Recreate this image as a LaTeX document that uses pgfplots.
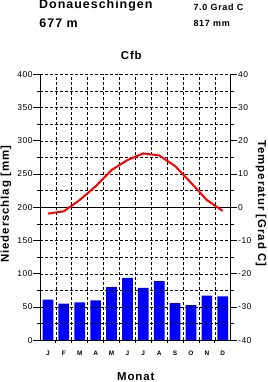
\documentclass[border=0pt]{standalone}
\usepackage{fontspec}
\setmainfont{Liberation Sans}
\newfontfamily\wb{Liberation Sans}[LetterSpace=8]
\newfontfamily\tk{Liberation Sans}[LetterSpace=6]
\usepackage{pgfplots}
\pgfplotsset{compat=1.18}
\begin{document}
\begin{tikzpicture}
\useasboundingbox (-40bp,-41.7bp) rectangle (228bp,340.3bp);
\begin{axis}[
  at={(0,0)}, anchor=south west,
  scale only axis, width=190.7bp, height=266bp,
  xmin=0.5, xmax=12.5, ymin=0, ymax=400,
  axis x line*=bottom, axis y line*=left,
  axis line style={black, line width=0.8bp},
  xtick={1,...,12}, xticklabels={},
  minor xtick={1.5,2.5,...,11.5},
  xmajorticks=false, xminorticks=false,
  xminorgrids=true,
  ytick={0,50,...,400}, minor ytick={25,75,...,375},
  ymajorgrids=true, yminorgrids=true,
  major grid style={black, line width=0.6bp, dash pattern=on 3bp off 2bp},
  minor grid style={black, line width=0.6bp, dash pattern=on 3bp off 2bp},
  tick align=outside, major tick length=6.5bp, minor tick length=3bp,
  tick style={black, line width=0.8bp},
  /pgf/number format/assume math mode=true,
  yticklabel style={font=\tk\fontsize{8.5}{9}\selectfont, inner sep=0.8bp},
  axis on top, clip=false,
]
\addplot[ybar, bar width=10.7bp, fill=blue, draw=none] coordinates {
(1,61) (2,55) (3,57) (4,60) (5,80) (6,94) (7,79) (8,89) (9,56) (10,53) (11,67) (12,66)};
\draw[black, line width=0.8bp] (axis cs:0.5,200) -- (axis cs:12.5,200);
\begin{scope}[every node/.style={anchor=base, inner sep=0, yshift=-15.4bp, font=\wb\bfseries\fontsize{6.5}{7}\selectfont}]
\node at (axis cs:1,0) {J};
\node at (axis cs:2,0) {F};
\node at (axis cs:3,0) {M};
\node at (axis cs:4,0) {A};
\node at (axis cs:5,0) {M};
\node at (axis cs:6,0) {J};
\node at (axis cs:7,0) {J};
\node at (axis cs:8,0) {A};
\node at (axis cs:9,0) {S};
\node at (axis cs:10,0) {O};
\node at (axis cs:11,0) {N};
\node at (axis cs:12,0) {D};
\end{scope}
\end{axis}
\begin{axis}[
  at={(0,0)}, anchor=south west,
  scale only axis, width=190.7bp, height=266bp,
  xmin=0.5, xmax=12.5, ymin=-40, ymax=40,
  axis x line=none, axis y line*=right,
  axis line style={black, line width=0.8bp},
  ytick={-40,-30,...,40}, yticklabels={-40,-30,-20,-10,0,10,20,30,40},
  minor ytick={-35,-25,...,35},
  tick align=outside, major tick length=6.5bp, minor tick length=3bp,
  tick style={black, line width=0.8bp},
  yticklabel style={font=\tk\fontsize{8.5}{9}\selectfont, inner sep=0.8bp},
]
\addplot[red, line width=2bp] coordinates {
(1,-1.9) (2,-1.2) (3,2.2) (4,6.3) (5,11.2) (6,14.2) (7,16.2) (8,15.6) (9,12.4) (10,7.4) (11,2.2) (12,-1.1)};
\end{axis}
\node[anchor=base west, font=\wb\bfseries\fontsize{12.5}{14}\selectfont, inner sep=0] at (-1bp,331.3bp) {Donaueschingen};
\node[anchor=base west, font=\wb\bfseries\fontsize{12.5}{14}\selectfont, inner sep=0] at (-0.7bp,313bp) {677 m};
\node[anchor=base west, font=\wb\bfseries\fontsize{9}{10}\selectfont, inner sep=0] at (153.3bp,329.6bp) {7.0 Grad C};
\node[anchor=base west, font=\wb\bfseries\fontsize{9}{10}\selectfont, inner sep=0] at (153.3bp,313.6bp) {817 mm};
\node[anchor=base, font=\wb\bfseries\fontsize{11.5}{12}\selectfont, inner sep=0] at (91.3bp,281bp) {Cfb};
\node[anchor=base, font=\wb\bfseries\fontsize{11.5}{12}\selectfont, inner sep=0] at (95.8bp,-40.4bp) {Monat};
\node[rotate=90, font=\wb\bfseries\fontsize{11.5}{12}\selectfont, inner sep=0] at (-34bp,136bp) {Niederschlag [mm]};
\node[rotate=-90, font=\wb\bfseries\fontsize{11.5}{12}\selectfont, inner sep=0] at (221bp,137bp) {Temperatur [Grad C]};
\end{tikzpicture}
\end{document}
